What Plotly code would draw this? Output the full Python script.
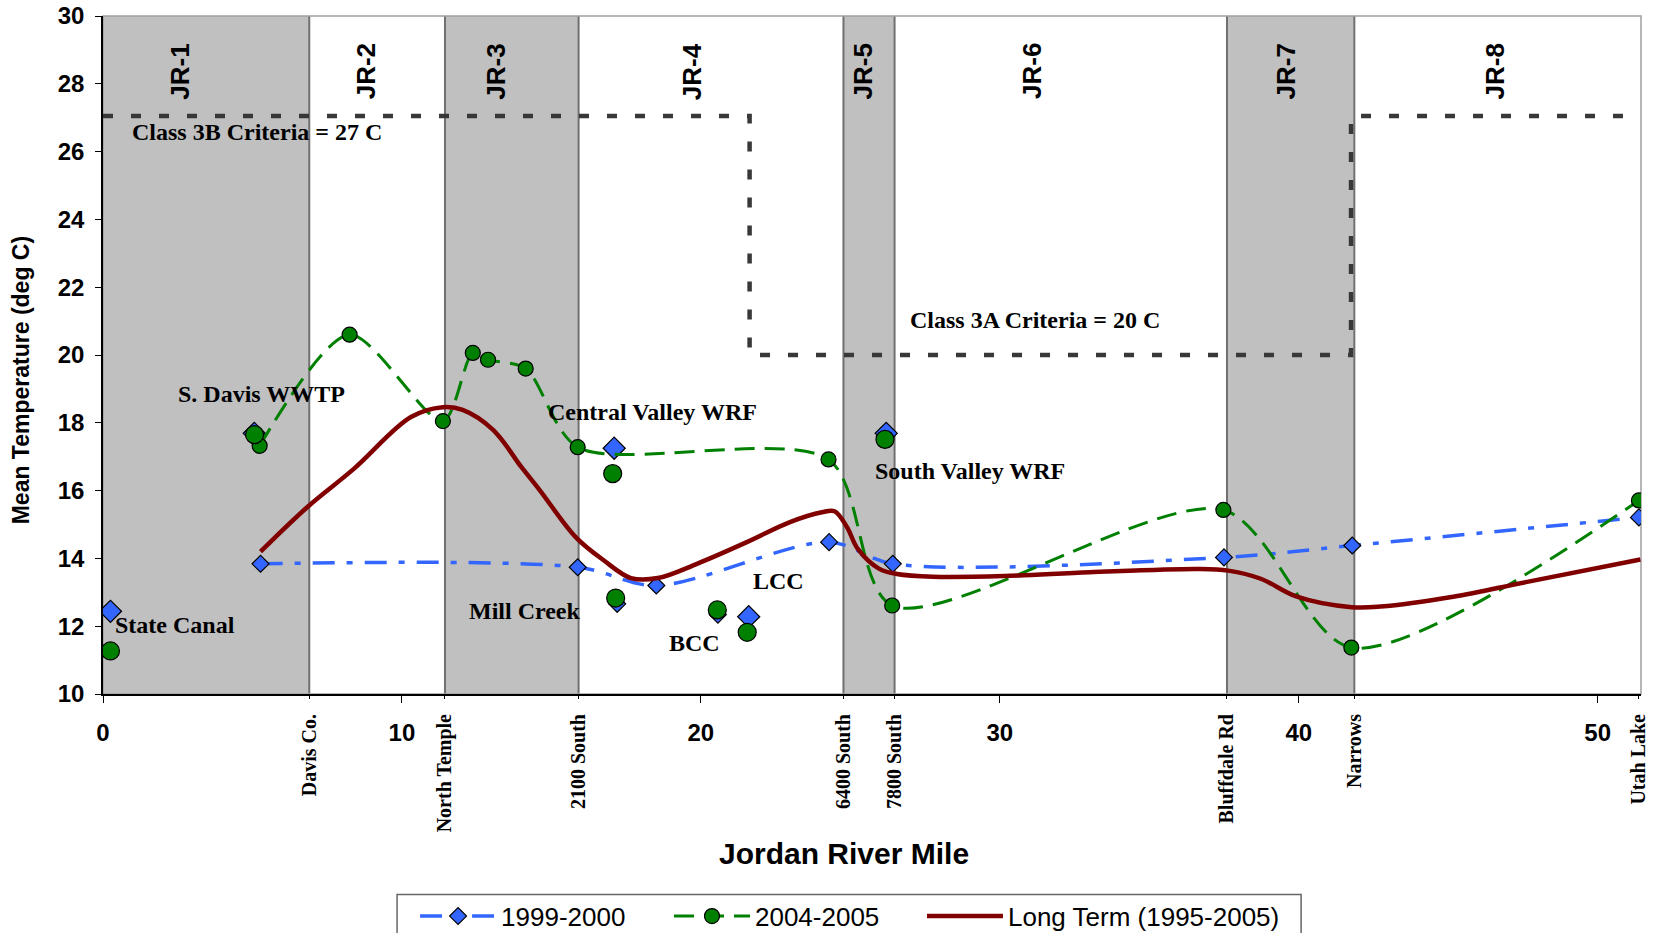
import plotly.graph_objects as go

# ---------------- data ----------------
# river-mile landmarks (reach boundaries) used as tick labels
site_names = ["Davis Co.", "North Temple", "2100 South", "6400 South", "7800 South",
              "Bluffdale Rd", "Narrows", "Utah Lake"]
site_miles = [6.9, 11.44, 15.91, 24.77, 26.48, 37.6, 41.86, 51.35]

# reaches
reach_names = ["JR-1", "JR-2", "JR-3", "JR-4", "JR-5", "JR-6", "JR-7", "JR-8"]
reach_start = [0.0, 6.9, 11.44, 15.91, 24.77, 26.48, 37.6, 41.86]
reach_end = [6.9, 11.44, 15.91, 24.77, 26.48, 37.6, 41.86, 51.45]
reach_label_x = [2.59, 8.8, 13.16, 19.7, 25.43, 31.1, 39.58, 46.57]
reach_shaded = [True, False, True, False, True, False, True, False]

# water quality criteria (step line)
crit_x = [0.0, 21.63, 21.63, 41.75, 41.75, 51.45]
crit_y = [27.05, 27.05, 20, 20, 27.05, 27.05]

# 1999-2000 main-stem series
y99_x = [5.27, 15.88, 18.51, 24.29, 26.42, 37.5, 41.79, 51.38]
y99_y = [13.84, 13.74, 13.2, 14.48, 13.84, 14.03, 14.38, 15.21]
# 1999-2000 inflows / point sources
y99_src_x = [0.25, 5.06, 17.1, 17.2, 20.57, 21.6, 26.2]
y99_src_y = [12.44, 17.69, 17.25, 12.66, 12.34, 12.28, 17.69]
y99_src_big = [True, True, True, False, False, True, True]

# 2004-2005 main-stem series
y04_x = [5.24, 8.25, 11.37, 12.37, 12.88, 14.14, 15.88, 24.27, 26.4, 37.48, 41.76, 51.38]
y04_y = [17.32, 20.6, 18.05, 20.06, 19.86, 19.6, 17.28, 16.92, 12.61, 15.43, 11.37, 15.71]
# 2004-2005 inflows / point sources
y04_src_x = [0.25, 5.07, 17.05, 17.15, 20.55, 21.55, 26.16]
y04_src_y = [11.27, 17.65, 16.5, 12.83, 12.48, 11.82, 17.51]

# long term (1995-2005)
lt_x = [5.27, 6.83, 8.39, 10.3, 11.37, 12.03, 13.05, 14.0, 14.62, 15.82, 16.77, 17.66,
        18.56, 19.87, 21.54, 22.98, 24.05, 24.47, 24.89, 25.25, 25.97, 26.56, 27.76,
        30.14, 33.0, 36.66, 37.64, 38.73, 39.94, 41.77, 42.74, 45.17, 47.6, 51.43]
lt_y = [14.2, 15.51, 16.64, 18.17, 18.46, 18.38, 17.79, 16.69, 16.0, 14.62, 13.93, 13.42,
        13.42, 13.84, 14.48, 15.07, 15.36, 15.39, 14.92, 14.28, 13.69, 13.54, 13.46,
        13.48, 13.59, 13.69, 13.64, 13.40, 12.87, 12.56, 12.58, 12.87, 13.30, 13.97]

# text labels on the plot
note_text = ["Class 3B Criteria = 27 C", "Class 3A Criteria = 20 C", "S. Davis WWTP",
             "Central Valley WRF", "South Valley WRF", "LCC", "Mill Creek", "BCC",
             "State Canal"]
note_x = [0.91, 26.94, 2.45, 14.83, 25.75, 21.67, 12.18, 18.86, 0.32]
note_y = [26.57, 21.03, 18.86, 18.31, 16.59, 13.32, 12.44, 11.49, 12.04]

# ---------------- styling ----------------
SANS = "Liberation Sans, Arial, sans-serif"
SERIF = "Liberation Serif, Times New Roman, serif"
BLUE = "#3366FF"
GREEN = "#008000"
RED = "#800000"
GRAYFILL = "#C0C0C0"

fig = go.Figure()

fig.add_trace(go.Scatter(
    x=crit_x, y=crit_y, mode="lines", showlegend=False, hoverinfo="skip",
    line=dict(color="#383838", width=4.5, dash="10px,18px")))

fig.add_trace(go.Scatter(
    x=y99_x, y=y99_y, mode="lines+markers", name="1999-2000", legend="legend",
    line=dict(color=BLUE, width=3.5, dash="22px,12px,6px,12px", shape="spline",
              smoothing=0.9),
    marker=dict(symbol="diamond", size=13, color=BLUE, opacity=1,
                line=dict(color="black", width=1.2))))
fig.add_trace(go.Scatter(
    x=y99_src_x, y=y99_src_y, mode="markers", showlegend=False,
    marker=dict(symbol="diamond", size=[17 if b else 13 for b in y99_src_big],
                color=BLUE, opacity=1, line=dict(color="black", width=1.2))))

fig.add_trace(go.Scatter(
    x=y04_x, y=y04_y, mode="lines+markers", name="2004-2005", legend="legend2",
    line=dict(color=GREEN, width=3, dash="20px,10px", shape="spline", smoothing=0.8),
    marker=dict(symbol="circle", size=15, color=GREEN, opacity=1,
                line=dict(color="black", width=1.2))))
fig.add_trace(go.Scatter(
    x=y04_src_x, y=y04_src_y, mode="markers", showlegend=False,
    marker=dict(symbol="circle", size=18, color=GREEN, opacity=1,
                line=dict(color="black", width=1.2))))

fig.add_trace(go.Scatter(
    x=lt_x, y=lt_y, mode="lines", name="Long Term (1995-2005)", legend="legend3",
    line=dict(color=RED, width=4.5, shape="spline")))

# invisible trace to create the landmark axis
fig.add_trace(go.Scatter(x=[site_miles[0]], y=[None], xaxis="x2", showlegend=False,
                         hoverinfo="skip"))

shapes = []
for s, e, sh in zip(reach_start, reach_end, reach_shaded):
    if sh:
        shapes.append(dict(type="rect", xref="x", yref="paper", x0=s, x1=e, y0=0, y1=1,
                           fillcolor=GRAYFILL, line=dict(width=0), layer="below"))
for m in site_miles[:-1]:
    shapes.append(dict(type="line", xref="x", yref="paper", x0=m, x1=m, y0=0, y1=1,
                       line=dict(color="#707070", width=2), layer="below"))
shapes.append(dict(type="rect", xref="paper", yref="paper", x0=0, x1=1, y0=0, y1=1,
                   line=dict(color="#A0A0A0", width=1.5), layer="below"))
# legend frame
shapes.append(dict(type="rect", xref="paper", yref="paper", x0=0.1912, x1=0.779,
                   y0=-0.40, y1=-0.2959, line=dict(color="#666666", width=1.5)))

annotations = []
for name, cx in zip(reach_names, reach_label_x):
    annotations.append(dict(x=cx, y=28.37, xref="x", yref="y", text=name, showarrow=False,
                            textangle=-90, xanchor="center", yanchor="middle",
                            font=dict(family=SANS, size=26, color="black", weight="bold")))
for t, nx, ny in zip(note_text, note_x, note_y):
    annotations.append(dict(x=nx, y=ny, xref="x", yref="y", text=t, showarrow=False,
                            xanchor="left", yanchor="middle",
                            font=dict(family=SERIF, size=24, color="black", weight="bold")))
annotations.append(dict(x=-0.0533, y=0.4627, xref="paper", yref="paper",
                        text="Mean Temperature (deg C)", showarrow=False, textangle=-90,
                        xanchor="center", yanchor="middle",
                        font=dict(family=SANS, size=23, color="black", weight="bold")))
annotations.append(dict(x=0.4818, y=-0.2354, xref="paper", yref="paper",
                        text="Jordan River Mile", showarrow=False,
                        xanchor="center", yanchor="middle",
                        font=dict(family=SANS, size=30, color="black", weight="bold")))

legend_common = dict(orientation="h", y=-0.293, xanchor="left", yanchor="top",
                     borderwidth=0, bgcolor="rgba(0,0,0,0)",
                     font=dict(family=SANS, size=26, color="black"), itemwidth=76)

fig.update_layout(
    width=1660, height=933,
    margin=dict(l=103, r=19, t=16, b=239, autoexpand=False),
    paper_bgcolor="white", plot_bgcolor="white",
    shapes=shapes, annotations=annotations,
    xaxis=dict(range=[0, 51.45], tickvals=[0, 10, 20, 30, 40, 50], ticks="outside",
               ticklen=7, tickcolor="black", tickwidth=1, showline=True, linecolor="black",
               linewidth=1.5, showgrid=False, zeroline=False, ticklabelstandoff=9,
               automargin=False,
               tickfont=dict(family=SANS, size=24, color="black", weight="bold")),
    xaxis2=dict(overlaying="x", anchor="y", side="bottom", matches="x",
                tickvals=site_miles, ticktext=site_names, tickangle=-90,
                ticks="outside", ticklen=4, tickcolor="black", showgrid=False,
                zeroline=False, showline=False, ticklabelstandoff=7, automargin=False,
                tickfont=dict(family=SERIF, size=20, color="black", weight="bold")),
    yaxis=dict(range=[10, 30], dtick=2, ticks="outside", ticklen=6, tickcolor="black",
               showline=True, linecolor="black", linewidth=1.5, showgrid=False,
               zeroline=False, ticklabelstandoff=6, automargin=False,
               tickfont=dict(family=SANS, size=24, color="black", weight="bold")),
    legend=dict(x=0.2029, **legend_common),
    legend2=dict(x=0.368, **legend_common),
    legend3=dict(x=0.5325, **legend_common),
    showlegend=True,
)

fig.write_html("out.html")
